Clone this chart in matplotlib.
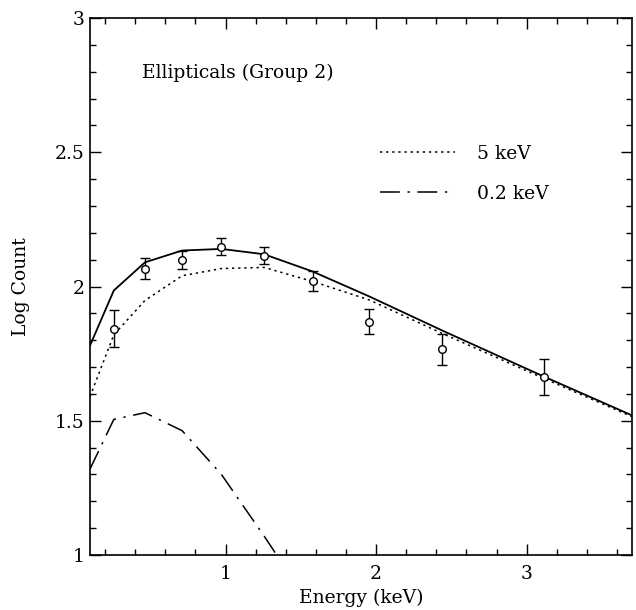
import matplotlib
matplotlib.use("Agg")
import matplotlib.pyplot as plt
from matplotlib.ticker import MultipleLocator

# ---- data ----
data_energy = [0.258, 0.465, 0.712, 0.973, 1.257, 1.578, 1.955, 2.44, 3.117]
data_logcount = [1.843, 2.067, 2.099, 2.148, 2.115, 2.021, 1.869, 1.766, 1.663]
data_err = [0.07, 0.04, 0.032, 0.032, 0.032, 0.037, 0.047, 0.057, 0.067]

model_energy = [0.1, 0.258, 0.465, 0.712, 0.973, 1.257, 1.578, 1.955, 2.44, 3.117, 3.7]
total_model = [1.78, 1.985, 2.09, 2.134, 2.14, 2.12, 2.056, 1.963, 1.836, 1.664, 1.52]
hot_5keV = [1.59, 1.82, 1.948, 2.04, 2.067, 2.071, 2.019, 1.95, 1.825, 1.657, 1.515]
soft_energy = [0.1, 0.258, 0.465, 0.712, 0.973, 1.257, 1.578]
soft_02keV = [1.32, 1.505, 1.53, 1.463, 1.30, 1.07, 0.80]

title_text = "Ellipticals (Group 2)"
legend_labels = ["5 keV", "0.2 keV"]

plt.rcParams['font.family'] = ['DejaVu Serif']
FS = 13.5

fig = plt.figure(figsize=(6.36, 6.10), dpi=100)
ax = fig.add_axes([90/636, 1-555/610, (632-90)/636, (555-18)/610])

ax.plot(model_energy, total_model, color='black', lw=1.3, solid_joinstyle='miter')
l1, = ax.plot(model_energy, hot_5keV, color='black', lw=1.1, linestyle=(0, (1.5, 2.5)))
l2, = ax.plot(soft_energy, soft_02keV, color='black', lw=1.1, linestyle=(0, (13, 5, 1.5, 5)))
ax.errorbar(data_energy, data_logcount, yerr=data_err, fmt='o', mfc='white', mec='black',
            ms=5.5, mew=1.0, ecolor='black', elinewidth=1.0, capsize=3.5, capthick=1.0, zorder=5)

ax.set_xlim(0.1, 3.7)
ax.set_ylim(1, 3)
ax.set_xticks([1, 2, 3])
ax.set_yticks([1, 1.5, 2, 2.5, 3])
ax.set_yticklabels(['1', '1.5', '2', '2.5', '3'])
ax.xaxis.set_minor_locator(MultipleLocator(0.2))
ax.yaxis.set_minor_locator(MultipleLocator(0.1))
ax.tick_params(which='both', direction='in', top=True, right=True, labelsize=FS, width=1.0)
ax.tick_params(which='major', length=8)
ax.tick_params(axis='y', which='major', pad=4)
ax.tick_params(axis='x', which='major', pad=7)
ax.tick_params(which='minor', length=4.5)
for s in ax.spines.values():
    s.set_linewidth(1.2)

ax.set_xlabel("Energy (keV)", fontsize=FS, labelpad=4)
ax.set_ylabel("Log Count", fontsize=FS, labelpad=18)

ax.text(0.096, 0.8976, title_text, transform=ax.transAxes, fontsize=FS, ha='left', va='center')

ax.legend([l1, l2], legend_labels, loc='upper left', bbox_to_anchor=(0.535, 0.7635),
          frameon=False, fontsize=FS, handlelength=4.0, handletextpad=1.2,
          labelspacing=1.15, borderpad=0, borderaxespad=0)

fig.savefig("out.png", dpi=100)
